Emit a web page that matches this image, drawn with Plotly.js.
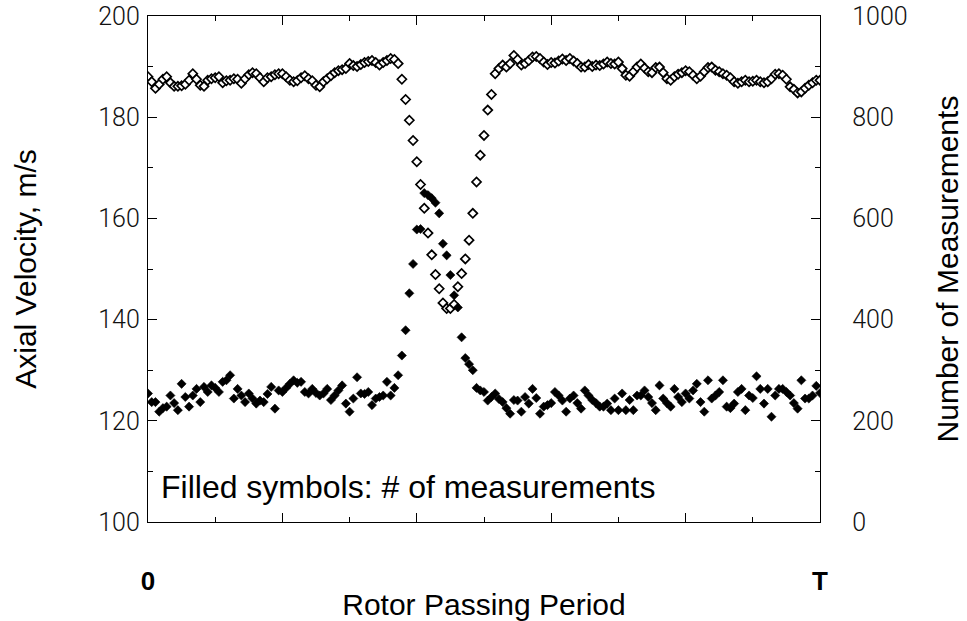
<!DOCTYPE html>
<html>
<head>
<meta charset="utf-8">
<script src="https://cdn.plot.ly/plotly-3.0.1.min.js"></script>
<style>html,body{margin:0;padding:0;background:#fff;}#chart{width:967px;height:621px;}</style>
</head>
<body>
<div id="chart"></div>
<script>
// Axial velocity (m/s), open diamonds, left axis — one value per phase bin across the rotor passing period
const axialVelocity = [
188.0,187.0,185.7,186.5,187.5,188.0,186.8,186.1,186.1,186.2,186.5,187.3,188.6,187.5,186.3,
186.1,187.3,187.6,187.8,188.0,186.8,187.2,187.3,187.6,187.5,186.7,187.6,188.4,188.8,188.6,187.8,187.0,187.8,188.0,188.4,
188.6,188.6,188.0,187.3,187.0,187.2,187.8,188.2,187.6,187.2,186.3,186.0,187.0,187.6,188.2,188.8,189.2,189.4,189.6,190.6,
190.2,190.0,190.4,190.8,191.0,191.2,190.8,190.3,190.8,191.2,191.6,191.4,190.6,187.5,183.5,179.4,175.4,171.2,166.7,162.0,
157.1,152.8,148.9,146.1,143.3,142.2,142.2,143.0,146.5,149.1,152.0,155.7,161.0,167.2,172.5,176.4,181.4,184.5,188.6,189.6,
190.3,189.9,190.6,192.2,191.4,190.3,190.6,191.2,191.9,192.0,191.6,190.9,190.4,190.8,190.7,191.1,191.5,191.2,191.6,191.1,
190.6,189.9,189.9,190.4,190.0,190.3,190.2,190.5,190.9,190.6,190.5,190.9,189.6,188.3,188.1,189.0,189.9,190.5,189.7,189.0,
188.8,189.8,189.9,188.8,187.6,187.3,188.0,188.5,188.8,189.2,189.0,188.3,187.6,188.1,189.0,189.8,189.9,189.3,189.0,188.6,
188.3,187.8,187.0,186.7,187.0,187.3,187.0,187.1,187.3,187.0,186.8,187.0,187.6,188.5,188.6,188.3,187.5,186.0,185.5,184.8,
185.0,185.7,186.3,186.8,187.3,187.3
];

// Number of measurements, filled diamonds, right axis — same phase bins
const measurementCount = [
254,237,237,218,225,228,250,235,221,273,247,228,250,263,237,267,257,270,265,257,
277,280,290,244,263,250,237,254,244,234,240,237,253,267,224,260,257,265,273,280,
275,277,257,254,263,255,250,254,263,241,250,260,270,234,218,244,286,254,253,257,
231,244,247,250,277,250,265,290,
329,379,452,510,578,579,650,646,640,631,610,550,527,488,448,424,365,324,312,300,
265,260,257,240,247,254,243,237,225,214,241,240,218,247,234,263,245,214,228,231,
235,257,250,240,218,244,250,235,224,260,250,241,235,228,228,234,221,244,221,254,
221,241,221,250,250,260,247,235,221,270,244,235,228,263,247,237,254,244,260,273,
237,218,280,244,250,257,280,228,225,234,257,263,221,250,245,288,263,234,263,208,
250,263,263,257,250,235,224,280,244,244,250,269,255
];

// Tick labels
const xTickVals = [0, 36, 72, 108, 144, 180];       // bin positions: 0, 0.2T, 0.4T, 0.6T, 0.8T, T
const xTickText = ['0', '', '', '', '', 'T'];
const yLeftTicks = [100, 120, 140, 160, 180, 200];
const yRightTicks = [0, 200, 400, 600, 800, 1000];

const numFont = {family: 'Roboto, "Liberation Sans", sans-serif', size: 25, color: '#111', weight: 300};
const titleFont = {family: '"Liberation Sans", Arial, sans-serif', size: 30, color: '#000'};

const traces = [
  {
    y: measurementCount, yaxis: 'y2', type: 'scatter', mode: 'markers',
    marker: {symbol: 'diamond', size: 7, color: '#000', line: {width: 0.6, color: '#000'}},
    hoverinfo: 'skip', showlegend: false
  },
  {
    y: axialVelocity, yaxis: 'y', type: 'scatter', mode: 'markers',
    marker: {symbol: 'diamond', size: 7, color: '#fff', line: {width: 1.7, color: '#000'}},
    hoverinfo: 'skip', showlegend: false
  }
];

const layout = {
  width: 967, height: 621,
  margin: {l: 148, r: 147, t: 16, b: 99},
  paper_bgcolor: '#fff', plot_bgcolor: '#fff',
  showlegend: false,
  xaxis: {
    range: [0, 180], showgrid: false, zeroline: false,
    showline: true, linecolor: '#000', linewidth: 1.2, mirror: 'ticks',
    ticks: 'inside', ticklen: 9, tickwidth: 1.2, tickcolor: '#000',
    tickvals: xTickVals, ticktext: xTickText,
    tickfont: {family: '"Liberation Sans", Arial, sans-serif', size: 26, color: '#000', weight: 'bold'},
    ticklabelstandoff: 36, ticklabeloverflow: 'allow',
    minor: {ticks: 'inside', ticklen: 5, tickwidth: 1, tickcolor: '#000', tick0: 0, dtick: 18},
    title: {text: 'Rotor Passing Period', font: titleFont, standoff: 10}
  },
  yaxis: {
    range: [100, 200], showgrid: false, zeroline: false,
    showline: true, linecolor: '#000', linewidth: 1.2, mirror: true,
    ticks: 'inside', ticklen: 9, tickwidth: 1.2, tickcolor: '#000',
    tickvals: yLeftTicks, tickfont: numFont, ticklabelstandoff: 2, ticklabeloverflow: 'allow',
    minor: {ticks: 'inside', ticklen: 5, tickwidth: 1, tickcolor: '#000', dtick: 10},
    title: {text: 'Axial Velocity, m/s', font: titleFont, standoff: 52}
  },
  yaxis2: {
    overlaying: 'y', side: 'right',
    range: [0, 1000], showgrid: false, zeroline: false,
    showline: true, linecolor: '#000', linewidth: 1.2,
    ticks: 'inside', ticklen: 9, tickwidth: 1.2, tickcolor: '#000',
    tickvals: yRightTicks, tickfont: numFont, ticklabelstandoff: 26, ticklabeloverflow: 'allow',
    minor: {ticks: 'inside', ticklen: 5, tickwidth: 1, tickcolor: '#000', dtick: 100},
    title: {text: 'Number of Measurements', font: titleFont, standoff: 30}
  },
  annotations: [{
    text: 'Filled symbols: # of measurements',
    xref: 'paper', yref: 'paper', x: 0.016, y: 0.069,
    xanchor: 'left', yanchor: 'middle', showarrow: false,
    font: {family: '"Liberation Sans", Arial, sans-serif', size: 32, color: '#000'}
  }]
};

Plotly.newPlot('chart', traces, layout, {staticPlot: true, displayModeBar: false});
</script>
</body>
</html>
